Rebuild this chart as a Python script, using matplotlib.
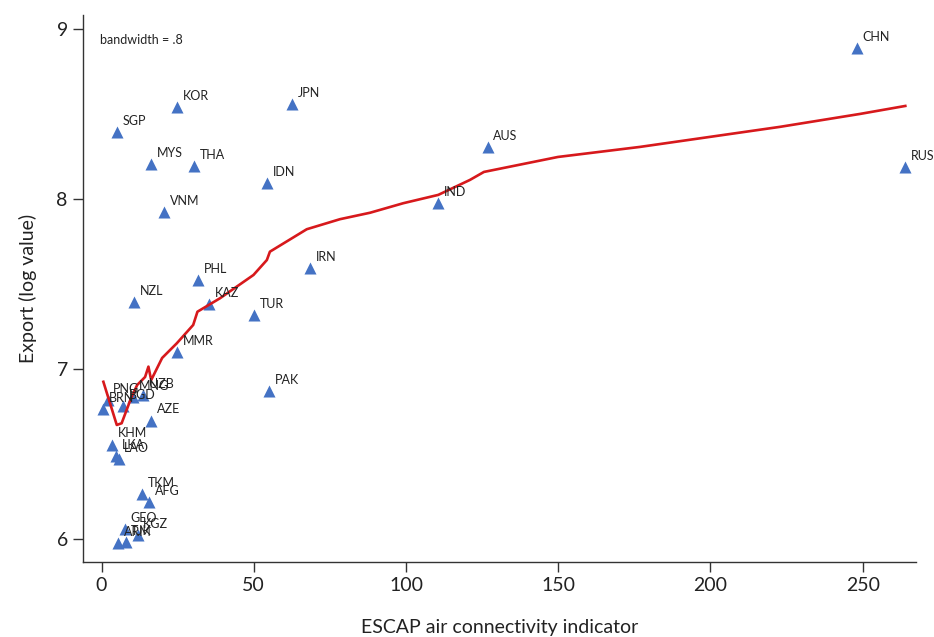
import matplotlib
matplotlib.use("Agg")
import matplotlib.pyplot as plt

plt.rcParams['font.family'] = ['Lato', 'DejaVu Sans']

# country points: air connectivity indicator vs export (log value)
countries = ['CHN', 'RUS', 'AUS', 'IND', 'JPN', 'IDN', 'IRN', 'TUR', 'PAK',
             'KOR', 'SGP', 'MYS', 'THA', 'VNM', 'PHL', 'KAZ', 'NZL', 'MMR',
             'BRN', 'PNG', 'BGD', 'MNG', 'UZB', 'AZE', 'KHM', 'LKA', 'LAO',
             'TKM', 'AFG', 'GEO', 'KGZ', 'ARM', 'TJK']
connectivity = [248.1, 263.9, 126.9, 110.5, 62.6, 54.3, 68.5, 50.1, 55.0,
                24.8, 5.1, 16.3, 30.4, 20.5, 31.7, 35.3, 10.7, 24.8,
                0.5, 2.0, 7.0, 10.4, 13.7, 16.3, 3.5, 4.9, 5.6,
                13.4, 15.7, 7.7, 11.9, 5.5, 7.9]
export_log = [8.888, 8.188, 8.306, 7.976, 8.559, 8.094, 7.594, 7.318, 6.871,
              8.541, 8.394, 8.206, 8.194, 7.924, 7.524, 7.382, 7.394, 7.100,
              6.765, 6.820, 6.780, 6.834, 6.847, 6.697, 6.556, 6.488, 6.470,
              6.265, 6.216, 6.059, 6.024, 5.974, 5.982]

# lowess fit (bandwidth .8)
fit_x = [0.6, 5.0, 6.6, 9.7, 11.7, 14.3, 15.4, 16.3, 19.9, 24.7, 30.1, 31.5,
         38.9, 49.9, 54.3, 55.3, 67.4, 78.3, 88.2, 99.1, 110.6, 121.0, 125.6,
         149.9, 176.8, 199.8, 222.8, 249.1, 264.0]
fit_y = [6.925, 6.671, 6.681, 6.829, 6.906, 6.953, 7.014, 6.935, 7.065, 7.151,
         7.259, 7.337, 7.416, 7.553, 7.641, 7.690, 7.822, 7.881, 7.919, 7.975,
         8.024, 8.112, 8.159, 8.247, 8.306, 8.365, 8.424, 8.500, 8.547]

fig = plt.figure(figsize=(9.34, 6.37), dpi=100)
ax = fig.add_axes([0.0889, 0.1177, 0.8918, 0.8588])

ax.scatter(connectivity, export_log, marker='^', s=75, color='#4472C4',
           linewidths=0, zorder=2)
ax.plot(fit_x, fit_y, color='#D7191C', lw=1.9, zorder=3)

for name, x, y in zip(countries, connectivity, export_log):
    ax.annotate(name, (x, y), xytext=(4, 8), textcoords='offset points',
                ha='left', va='center', fontsize=9, color='#222222', zorder=4)

ax.text(0.02, 0.955, 'bandwidth = .8', transform=ax.transAxes, fontsize=9,
        color='#222222', ha='left', va='center')

ax.set_xlim(-6.08, 267.5)
ax.set_ylim(5.865, 9.082)
ax.set_xticks([0, 50, 100, 150, 200, 250])
ax.set_yticks([6, 7, 8, 9])
for side in ['top', 'right']:
    ax.spines[side].set_visible(False)
for side in ['left', 'bottom']:
    ax.spines[side].set_linewidth(1.0)
    ax.spines[side].set_color('#333333')
ax.tick_params(axis='both', direction='out', length=7, width=1.0,
               color='#333333', labelsize=14, labelcolor='#222222', pad=4)

ax.set_xlabel('ESCAP air connectivity indicator', fontsize=14,
              color='#222222', labelpad=18)
ax.set_ylabel('Export (log value)', fontsize=14, color='#222222', labelpad=14)

fig.savefig('out.png', dpi=100)
